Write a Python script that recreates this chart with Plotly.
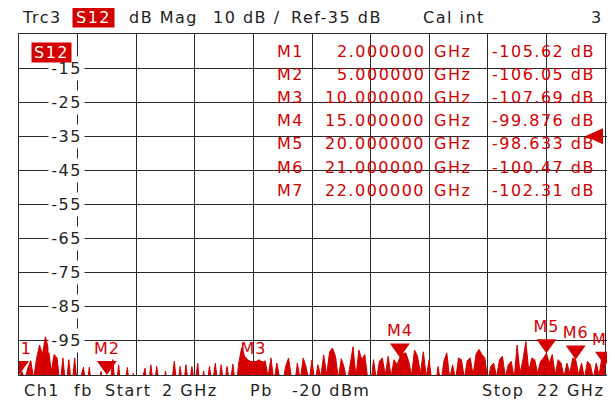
import numpy as np
import plotly.graph_objects as go

# ---------------- data ----------------
FREQ_START_GHZ = 2
FREQ_STOP_GHZ = 22
N_POINTS = 201
REF_LEVEL_DB = -35
SCALE_DB_PER_DIV = 10
POWER_DBM = -20

trace_db = [
    -105.62, -104.0, -106.5, -103.0, -100.8, -106.0, -100.2, -96.2, -99.0, -93.8,
    -97.0, -104.0, -99.0, -100.0, -108.0, -100.0, -109.0, -100.5, -109.0, -100.0,
    -109.0, -106.0, -102.7, -109.0, -102.7, -110.0, -106.0, -108.0, -104.0, -109.0,
    -106.05, -109.0, -100.5, -110.0, -102.0, -110.0, -108.0, -102.8, -111.0, -104.5,
    -109.0, -110.0, -106.0, -103.0, -110.0, -102.0, -109.0, -102.5, -108.0, -110.0,
    -103.8, -110.0, -108.0, -101.0, -109.0, -102.5, -109.0, -102.0, -109.0, -102.5,
    -108.0, -101.5, -111.0, -103.8, -109.0, -102.5, -108.0, -101.5, -109.0, -102.0,
    -109.0, -102.5, -108.0, -101.8, -109.0, -101.5, -97.0, -99.5, -100.5, -101.0,
    -107.69, -101.0, -100.5, -101.5, -100.8, -105.5, -100.0, -107.0, -101.5, -106.0,
    -107.5, -102.5, -100.0, -106.0, -108.5, -101.5, -106.5, -100.0, -102.7, -107.0,
    -100.6, -107.5, -102.0, -105.5, -99.1, -105.0, -98.2, -97.1, -99.5, -106.0,
    -100.2, -102.8, -107.5, -102.0, -96.7, -105.5, -97.7, -100.5, -99.0, -106.0,
    -108.5, -100.5, -106.5, -101.0, -100.0, -105.0, -99.5, -105.5, -100.5, -102.0,
    -99.876, -98.8, -98.5, -101.0, -105.0, -97.7, -99.5, -104.5, -98.2, -105.5,
    -100.5, -108.0, -109.5, -102.5, -107.5, -101.0, -98.5, -106.0, -102.0, -106.5,
    -100.0, -100.5, -106.0, -100.8, -100.0, -105.0, -98.8, -97.5, -99.0, -100.0,
    -107.0, -102.5, -101.5, -105.5, -100.5, -99.5, -105.5, -102.0, -101.0, -106.0,
    -96.2, -104.5, -100.5, -95.2, -104.0, -100.0, -100.5, -104.5, -101.0, -100.0,
    -98.633, -101.5, -99.0, -105.0, -100.5, -101.5, -105.5, -101.5, -104.5, -100.0,
    -100.47, -105.0, -101.5, -106.0, -101.0, -102.0, -106.0, -101.5, -105.0, -99.5,
    -102.31,
]

marker_names = ["M1", "M2", "M3", "M4", "M5", "M6", "M7"]
marker_freq_ghz = [2.0, 5.0, 10.0, 15.0, 20.0, 21.0, 22.0]
marker_db = [-105.62, -106.05, -107.69, -99.876, -98.633, -100.47, -102.31]

y_tick_labels = [-15, -25, -35, -45, -55, -65, -75, -85, -95]

# ---------------- styling / geometry ----------------
RED = "#d40000"
INK = "#222222"
GRID = "#2a2a2a"
FONT = "DejaVu Sans"
FS = 16
OFF = 8                      # page body margin
W, H = 615 - OFF, 407 - OFF
PLOT_X0, PLOT_X1 = 19, 612   # screen pixels
PLOT_Y0, PLOT_Y1 = 34, 375
L = PLOT_X0 - OFF
R = W - (PLOT_X1 - OFF)
T = PLOT_Y0 - OFF
B = H - (PLOT_Y1 - OFF)
PLOT_W = PLOT_X1 - PLOT_X0
PLOT_H = PLOT_Y1 - PLOT_Y0

freq = np.linspace(FREQ_START_GHZ, FREQ_STOP_GHZ, N_POINTS)
y_bottom = REF_LEVEL_DB - 7 * SCALE_DB_PER_DIV
y_top = REF_LEVEL_DB + 3 * SCALE_DB_PER_DIV
px_per_ghz = 586 / (FREQ_STOP_GHZ - FREQ_START_GHZ)
x_max = FREQ_STOP_GHZ + (PLOT_W - 586) / px_per_ghz


def px(xs):
    return (xs - PLOT_X0) / PLOT_W


def py(ys):
    return (PLOT_Y1 - ys) / PLOT_H


def sp(text, ls=1.5):
    return f'<span style="letter-spacing:{ls}px">{text}</span>'


fig = go.Figure()

fig.add_trace(go.Scatter(x=freq, y=[y_bottom - 30] * len(freq), mode="lines",
                         line=dict(width=0, color=RED), hoverinfo="skip", showlegend=False))
fig.add_trace(go.Scatter(x=freq, y=trace_db, mode="lines", fill="tonexty",
                         fillcolor=RED, line=dict(color=RED, width=1),
                         showlegend=False))

tip_db = [max(v, y_bottom) for v in marker_db]

fig.add_trace(go.Scatter(x=marker_freq_ghz, y=tip_db, mode="markers+text",
                         text=[sp(n, 1) for n in marker_names], textposition="top center",
                         textfont=dict(family=FONT, size=16, color=RED),
                         marker=dict(size=26, color="rgba(0,0,0,0)"),
                         cliponaxis=True, showlegend=False, hoverinfo="skip"))

shapes = []
for f, v in zip(marker_freq_ghz, tip_db):
    shapes.append(dict(type="path", xref="x", yref="y", xsizemode="pixel",
                       ysizemode="pixel", xanchor=f, yanchor=v,
                       path="M0,0 L-10,14 L10,14 Z", fillcolor=RED,
                       line=dict(width=0), layer="above"))

shapes.append(dict(type="path", xref="x", yref="y", xsizemode="pixel",
                   ysizemode="pixel", xanchor=FREQ_STOP_GHZ, yanchor=REF_LEVEL_DB,
                   path="M-20,0 L-2,8 L-2,-8 Z", fillcolor=RED,
                   line=dict(width=0), layer="above"))

shapes.append(dict(type="line", xref="paper", yref="paper", x0=1, x1=1,
                   y0=py(9), y1=py(407), line=dict(color=INK, width=1.3)))

annotations = []
for t in y_tick_labels:
    annotations.append(dict(x=FREQ_START_GHZ + 2, y=t, xref="x", yref="y",
                            text=sp(str(t)), showarrow=False, xshift=-11,
                            xanchor="center", yanchor="middle",
                            font=dict(family=FONT, size=FS, color=INK),
                            bgcolor="white", width=31, height=19, borderpad=2))

annotations.append(dict(x=px(51.5), y=py(52.5), xref="paper", yref="paper",
                        text=sp("S12"), showarrow=False, bgcolor=RED,
                        xanchor="center", yanchor="middle",
                        font=dict(family=FONT, size=FS, color="white"),
                        width=37, height=17, borderpad=1))

hdr_y = py(17)


def hdr(text, x, anchor="left"):
    annotations.append(dict(x=px(x), y=hdr_y, xref="paper", yref="paper", text=sp(text),
                            showarrow=False, xanchor=anchor, yanchor="middle",
                            font=dict(family=FONT, size=FS, color=INK)))


hdr("Trc3", 20)
annotations.append(dict(x=px(93), y=hdr_y, xref="paper", yref="paper",
                        text=sp("S12"), showarrow=False, bgcolor=RED,
                        xanchor="center", yanchor="middle",
                        font=dict(family=FONT, size=FS, color="white"),
                        width=39, height=18, borderpad=1))
hdr("dB Mag", 127)
hdr(f"{SCALE_DB_PER_DIV} dB /", 211)
hdr(f"Ref{REF_LEVEL_DB} dB", 289)
hdr("Cal int", 421)
hdr("3", 605, anchor="right")

ft_y = py(390)


def ftr(text, x, anchor="left"):
    annotations.append(dict(x=px(x), y=ft_y, xref="paper", yref="paper", text=sp(text),
                            showarrow=False, xanchor=anchor, yanchor="middle",
                            font=dict(family=FONT, size=FS, color=INK)))


ftr("Ch1", 22)
ftr("fb", 72)
ftr("Start", 103)
ftr(f"{FREQ_START_GHZ} GHz", 160)
ftr("Pb", 248)
ftr(f"{POWER_DBM} dBm", 290)
ftr("Stop", 480)
ftr(f"{FREQ_STOP_GHZ} GHz", 606, anchor="right")

for i, (name, f, v) in enumerate(zip(marker_names, marker_freq_ghz, marker_db)):
    yy = py(51.5 + 23.1 * i)
    common = dict(y=yy, xref="paper", yref="paper", showarrow=False,
                  yanchor="middle", font=dict(family=FONT, size=FS, color=RED))
    annotations.append(dict(x=px(306), xanchor="right", text=sp(name), **common))
    annotations.append(dict(x=px(427), xanchor="right", text=sp(f"{f:.6f}"), **common))
    annotations.append(dict(x=px(432), xanchor="left", text=sp("GHz"), **common))
    annotations.append(dict(x=px(597), xanchor="right", text=sp(f"{v:.5g} dB"), **common))

fig.update_layout(
    width=W, height=H,
    margin=dict(l=L, r=R, t=T, b=B),
    paper_bgcolor="white", plot_bgcolor="white",
    showlegend=False,
    xaxis=dict(range=[FREQ_START_GHZ, x_max], tick0=FREQ_START_GHZ, dtick=2,
               showgrid=True, gridcolor=GRID, gridwidth=1.3,
               showticklabels=False, ticks="", zeroline=False,
               showline=True, mirror=True, linecolor=GRID, linewidth=1.3),
    yaxis=dict(range=[y_bottom, y_top], tick0=y_bottom, dtick=SCALE_DB_PER_DIV,
               showgrid=True, gridcolor=GRID, gridwidth=1.3,
               showticklabels=False, ticks="", zeroline=False,
               showline=True, mirror=True, linecolor=GRID, linewidth=1.3),
    shapes=shapes,
    annotations=annotations,
)

fig.write_html("out.html")
